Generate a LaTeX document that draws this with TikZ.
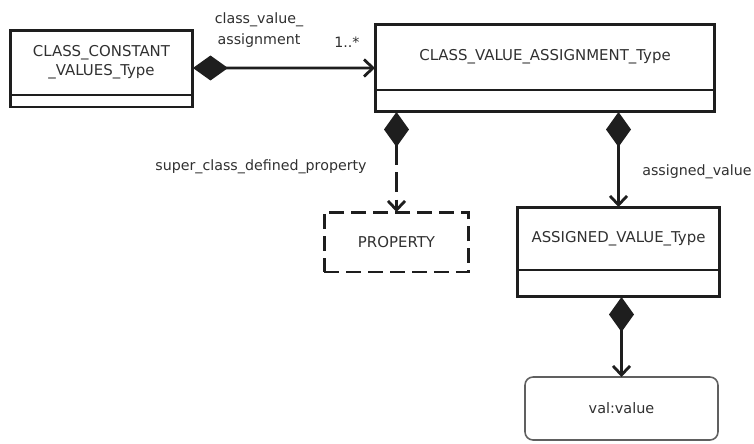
\documentclass[tikz,border=0pt]{standalone}
\usepackage{fontspec}
\setmainfont{DejaVu Sans}
\usetikzlibrary{shapes,arrows.meta}
\definecolor{umlink}{HTML}{1E1E1E}
\definecolor{umltext}{HTML}{303030}

\begin{document}
\begin{tikzpicture}[x=0.02cm,y=-0.02cm,
  cls/.style={shape=rectangle,draw=umlink,align=center,line width=1.7pt,inner sep=0pt,outer sep=0pt,text=umltext,font=\fontsize{8.5}{11}\selectfont},
  clsdash/.style={cls,dash pattern=on 0.3cm off 0.14cm},
  valbox/.style={shape=rectangle,draw=gray!75!black,align=center,line width=0.9pt,rounded corners=0.16cm,inner sep=0pt,outer sep=0pt,text=umltext,font=\fontsize{8.2}{10}\selectfont},
  lbl/.style={align=center,inner sep=0pt,text=umltext,font=\fontsize{8.1}{12}\selectfont},
  comp/.style={draw=umlink,line width=1.6pt,{Diamond[length=0.7cm,width=0.5cm]}-{Straight Barb[length=0.18cm,width=0.34cm]}}]
\useasboundingbox (0,0) rectangle (754,443);

\node[cls,minimum width=3.66cm,minimum height=1.3cm] (0) at (101.5,62.5) {CLASS\_CONSTANT\\\_VALUES\_Type};
\node[cls,minimum width=3.66cm,minimum height=0.24cm,anchor=north] (0b) at (0.south) {};
\node[cls,minimum width=6.8cm,minimum height=1.32cm] (1) at (545,57) {CLASS\_VALUE\_ASSIGNMENT\_Type};
\node[cls,minimum width=6.8cm,minimum height=0.44cm,anchor=north] (1b) at (1.south) {};
\node[clsdash,minimum width=2.9cm,minimum height=1.2cm] (2) at (396.5,242) {PROPERTY};
\node[cls,minimum width=4.06cm,minimum height=1.26cm] (3) at (618.5,238.5) {ASSIGNED\_VALUE\_Type};
\node[cls,minimum width=4.06cm,minimum height=0.54cm,anchor=north] (3b) at (3.south) {};
\node[valbox,minimum width=3.86cm,minimum height=1.26cm] (4) at (621.5,408.5) {val:value};

\node[lbl] (5) at (259,30) {class\_value\_\\assignment};
\node[lbl] (6) at (347,42) {1..*};
\node[lbl] (7) at (261,167) {super\_class\_defined\_property};
\node[lbl] (8) at (697,172) {assigned\_value};

\path [comp] ([yshift=-0.11cm]0.east) -- ([yshift=-0.22cm]1.west);
\path [comp,dash pattern=on 0.4cm off 0.15cm] (1b.south -| 2.north) -- (2.north);
\path [comp] (1b.south -| 3.north) -- (3.north);
\path [comp] (3b.south -| 4.north) -- (4.north);
\end{tikzpicture}
\end{document}
